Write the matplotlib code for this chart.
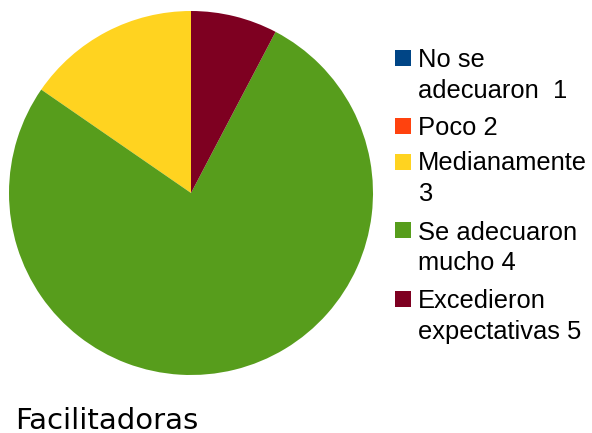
import matplotlib
matplotlib.use("Agg")
import matplotlib.pyplot as plt
from matplotlib.patches import Rectangle

labels = ["No se\nadecuaron  1", "Poco 2", "Medianamente\n3", "Se adecuaron\nmucho 4", "Excedieron\nexpectativas 5"]
values = [0, 0, 2, 10, 1]
colors = ["#004586", "#ff420e", "#ffd320", "#579d1c", "#7e0021"]
title = "Facilitadoras"

W, H = 592, 433
fig = plt.figure(figsize=(W / 100, H / 100), dpi=100)
cx, cy, r = 191, 193, 182
ax = fig.add_axes([(cx - r) / W, (H - cy - r) / H, 2 * r / W, 2 * r / H])
ax.pie(values, colors=colors, startangle=90, counterclock=True, radius=1,
       wedgeprops=dict(linewidth=0))
ax.set_xlim(-1, 1)
ax.set_ylim(-1, 1)
ax.set_aspect("equal")
ax.axis("off")

# legend drawn by hand so the swatch aligns with the first text line
first_baselines = [67, 135, 170.5, 239.5, 308]
line_step = 30.5
for lab, col, b in zip(labels, colors, first_baselines):
    fig.patches.append(Rectangle(((395) / W, 1 - (b - 1) / H), 16 / W, 16 / H,
                                 transform=fig.transFigure, facecolor=col,
                                 edgecolor="none"))
    for i, line in enumerate(lab.split("\n")):
        fig.text(418 / W, 1 - (b + i * line_step) / H, line, fontsize=18.4,
                 family="Liberation Sans", ha="left", va="baseline")

fig.text(15 / W, 1 - 429 / H, title, fontsize=21, family="DejaVu Sans",
         ha="left", va="baseline")

fig.savefig("out.png", dpi=100)
